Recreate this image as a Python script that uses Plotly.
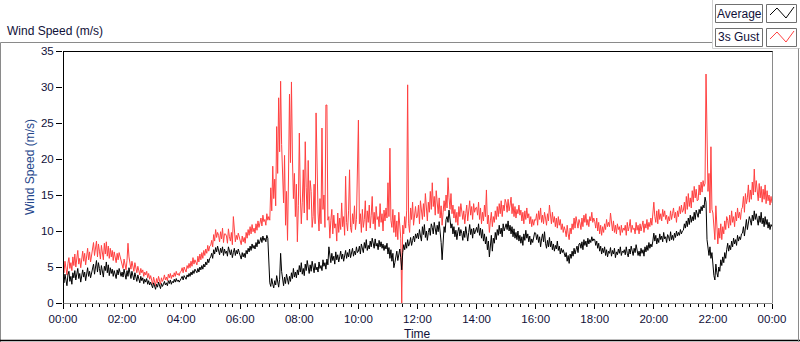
import pandas as pd
import plotly.graph_objects as go

# ---------------- data (2-minute samples) ----------------
start_time = "2000-01-01 00:00"
step = "2min"

avg_speed = [
    # 00h
    3.6, 2.8, 4.0, 3.1, 2.4, 3.9, 4.4, 3.0, 3.7, 2.6, 4.2, 3.5, 4.5, 3.2, 3.9,
    4.8, 3.4, 4.1, 2.9, 3.8, 4.6, 3.6, 4.3, 3.1, 4.0, 4.9, 3.7, 4.4, 3.5, 4.2,
    # 01h
    4.6, 5.4, 4.0, 5.0, 5.9, 4.3, 5.6, 4.8, 3.9, 5.2, 4.4, 3.6, 5.1, 4.5, 5.7,
    4.2, 5.3, 3.8, 4.9, 4.1, 4.7, 3.7, 4.5, 4.0, 3.4, 4.6, 3.9, 4.8, 4.2, 3.7,
    # 02h
    4.3, 3.6, 4.7, 3.9, 3.3, 4.5, 3.7, 4.9, 4.1, 3.4, 4.4, 3.8, 3.2, 4.2, 3.6,
    3.0, 3.9, 3.4, 2.8, 3.7, 3.1, 3.5, 2.7, 3.3, 2.9, 3.4, 2.6, 3.1, 2.5, 2.9,
    # 03h
    2.5, 2.1, 2.8, 2.3, 1.9, 2.6, 2.2, 2.9, 2.4, 2.0, 2.7, 2.3, 2.6, 3.0, 2.5,
    2.8, 2.4, 3.1, 2.7, 3.2, 2.6, 3.0, 2.8, 3.3, 2.9, 3.4, 3.0, 3.2, 2.9, 3.3,
    # 04h
    3.4, 3.7, 3.2, 3.8, 3.5, 3.3, 3.9, 3.6, 4.1, 3.7, 4.3, 3.9, 4.5, 4.1, 4.7,
    4.4, 4.2, 4.8, 4.3, 5.0, 4.6, 5.2, 4.7, 5.4, 5.0, 5.7, 5.3, 6.1, 5.6, 6.2,
    # 05h
    6.4, 6.9, 6.2, 7.4, 6.8, 7.7, 7.1, 7.9, 7.3, 6.7, 7.6, 7.0, 7.8, 6.6, 7.5,
    6.9, 7.2, 6.5, 7.8, 7.1, 6.7, 7.4, 6.3, 7.0, 7.6, 6.6, 7.3, 6.8, 7.5, 7.0,
    # 06h
    6.6, 6.1, 7.0, 6.4, 6.9, 6.3, 7.3, 6.8, 7.6, 7.1, 7.9, 7.3, 8.2, 7.6, 8.0,
    7.5, 8.4, 7.8, 8.8, 8.2, 8.6, 9.1, 8.4, 9.3, 8.7, 9.0, 8.5, 9.4, 9.0, 4.2,
    # 07h
    2.8, 2.3, 3.4, 2.6, 2.1, 3.1, 2.5, 3.8, 2.9, 2.2, 3.3, 6.9, 4.4, 3.0, 2.4,
    3.6, 2.7, 4.0, 3.2, 2.6, 3.7, 3.0, 4.2, 3.4, 4.8, 3.6, 4.3, 3.5, 4.6, 3.9,
    # 08h
    5.2, 4.3, 5.6, 4.0, 4.8, 3.8, 5.4, 4.5, 5.9, 4.7, 4.1, 5.3, 4.4, 5.8, 4.9,
    4.2, 5.5, 4.6, 5.0, 4.3, 5.7, 4.8, 5.2, 4.5, 6.0, 5.1, 5.6, 4.7, 6.1, 5.3,
    # 09h
    7.8, 6.2, 5.6, 6.9, 5.9, 6.5, 5.4, 7.1, 6.0, 6.7, 5.7, 6.4, 7.2, 6.1, 6.8,
    5.8, 6.6, 7.3, 6.2, 7.0, 6.4, 7.5, 6.3, 6.9, 7.6, 6.5, 7.2, 6.7, 7.8, 7.0,
    # 10h
    7.2, 7.9, 6.8, 8.2, 7.4, 7.0, 8.4, 7.6, 8.8, 7.3, 8.0, 7.5, 8.6, 7.8, 9.0,
    8.1, 7.6, 8.9, 7.9, 8.3, 7.4, 8.7, 7.8, 8.5, 7.6, 8.2, 7.3, 8.0, 7.5, 8.3,
    # 11h
    6.8, 7.7, 6.2, 7.4, 5.8, 6.9, 4.9, 5.6, 6.4, 7.2, 5.9, 6.8, 7.5, 6.3, 4.6,
    7.0, 8.1, 7.4, 8.4, 7.6, 8.8, 7.9, 8.3, 9.1, 8.0, 8.7, 9.3, 8.5, 9.6, 9.0,
    # 12h
    9.7, 8.9, 10.2, 9.3, 8.6, 10.6, 9.5, 10.9, 9.1, 10.0, 8.7, 9.8, 10.4, 9.4, 11.0,
    10.5, 9.6, 11.2, 10.3, 9.5, 10.8, 9.9, 11.3, 10.1, 8.4, 6.0, 8.9, 10.6, 9.8, 11.6,
    # 13h
    12.0, 11.2, 12.9, 11.6, 10.4, 11.0, 9.6, 10.6, 9.2, 10.1, 8.8, 9.9, 10.5, 9.3, 10.2,
    9.7, 8.7, 10.0, 9.1, 10.6, 9.4, 8.6, 9.8, 10.9, 9.5, 10.3, 9.0, 10.4, 9.6, 10.2,
    # 14h
    10.5, 9.8, 11.0, 9.4, 10.4, 9.0, 10.2, 8.6, 9.6, 8.2, 9.2, 7.4, 8.6, 6.4, 8.0,
    9.4, 7.2, 9.0, 8.3, 9.8, 8.8, 10.2, 9.4, 10.8, 9.6, 10.4, 9.2, 11.0, 10.0, 10.6,
    # 15h
    11.0, 10.2, 11.4, 10.0, 10.8, 9.6, 10.6, 9.2, 10.3, 9.0, 9.8, 8.8, 10.0, 8.6, 9.4,
    8.3, 9.2, 8.0, 9.6, 8.7, 10.1, 9.0, 9.6, 8.5, 9.3, 8.1, 8.9, 8.4, 9.4, 9.8,
    # 16h
    9.7, 8.8, 9.5, 8.4, 9.2, 7.8, 8.9, 9.6, 8.5, 9.9, 8.3, 7.6, 8.7, 7.8, 9.1,
    7.8, 8.6, 7.4, 8.2, 7.2, 8.0, 7.5, 8.6, 7.3, 7.9, 6.8, 7.6, 7.0, 7.4, 6.6,
    # 17h
    6.4, 7.0, 5.8, 6.6, 5.5, 6.8, 6.2, 7.2, 6.5, 7.6, 6.8, 7.4, 7.9, 7.0, 8.2,
    8.3, 7.6, 8.5, 7.4, 8.8, 8.0, 8.6, 7.8, 9.0, 8.2, 8.8, 8.4, 9.2, 8.6, 8.9,
    # 18h
    8.8, 8.0, 8.6, 7.6, 8.3, 7.2, 7.9, 6.8, 7.6, 7.0, 7.8, 6.6, 7.4, 6.4, 7.2,
    6.9, 7.7, 6.5, 7.3, 6.8, 7.6, 6.3, 7.1, 6.7, 7.5, 6.9, 7.8, 6.6, 7.2, 7.0,
    # 19h
    7.4, 6.7, 7.8, 6.9, 6.4, 7.5, 6.8, 7.9, 7.1, 6.6, 7.6, 7.0, 8.1, 7.3, 6.6,
    7.2, 6.5, 7.6, 6.9, 7.4, 6.5, 7.8, 7.1, 8.0, 7.3, 8.4, 7.6, 8.2, 7.8, 8.6,
    # 20h
    9.7, 8.6, 9.4, 8.2, 9.0, 8.4, 9.6, 8.8, 9.3, 8.5, 9.8, 8.9, 9.2, 8.4, 9.5,
    9.2, 8.6, 9.9, 8.8, 9.4, 8.7, 9.7, 9.1, 10.0, 9.3, 9.8, 9.4, 10.2, 9.6, 10.0,
    # 21h
    10.1, 11.0, 10.4, 11.4, 10.6, 11.8, 10.9, 12.2, 11.2, 12.0, 11.4, 12.6, 11.6, 12.9, 12.2,
    11.9, 13.0, 12.4, 13.4, 12.8, 13.6, 13.2, 14.7, 14.0, 8.8, 7.4, 6.6, 7.8, 6.2, 7.0,
    # 22h
    5.0, 3.8, 3.2, 5.4, 4.2, 3.6, 5.0, 4.4, 6.0, 5.2, 6.4, 5.6, 7.0, 6.2, 7.4,
    8.3, 7.2, 8.0, 7.4, 8.6, 7.8, 9.0, 8.2, 8.8, 8.0, 9.4, 8.6, 9.2, 8.8, 9.6,
    # 23h
    9.7, 10.6, 9.3, 10.8, 11.6, 10.2, 11.2, 12.0, 11.5, 10.8, 12.2, 11.4, 12.8, 11.6, 12.4,
    11.5, 10.8, 12.1, 11.2, 12.6, 11.0, 11.8, 10.6, 12.0, 10.9, 11.6, 10.4, 11.2, 10.2, 10.9,
    # 24h
    10.6,
]

gust_speed = [
    # 00h
    5.0, 4.2, 5.8, 4.6, 3.9, 5.5, 6.3, 4.8, 5.6, 4.5, 6.4, 5.2, 6.8, 5.0, 5.9,
    7.3, 5.4, 6.2, 4.9, 6.0, 7.2, 5.8, 6.9, 5.3, 6.4, 7.6, 6.0, 7.1, 5.7, 6.6,
    # 01h
    7.6, 8.4, 6.6, 7.8, 8.6, 6.4, 8.2, 7.2, 6.1, 8.0, 7.0, 6.0, 8.3, 6.8, 8.5,
    6.5, 7.9, 6.2, 7.6, 6.4, 7.3, 5.9, 7.1, 6.3, 5.6, 6.9, 6.0, 7.0, 6.4, 5.8,
    # 02h
    5.6, 4.8, 6.1, 5.2, 4.6, 5.9, 8.3, 6.4, 5.5, 4.7, 5.8, 5.0, 4.4, 5.6, 4.9,
    4.2, 5.1, 4.6, 3.9, 4.8, 4.2, 4.6, 3.7, 4.3, 3.9, 4.4, 3.5, 4.1, 3.3, 3.8,
    # 03h
    3.2, 2.6, 3.6, 2.9, 2.4, 3.4, 2.8, 3.7, 3.1, 2.6, 3.5, 3.0, 3.3, 3.9, 3.2,
    3.6, 3.1, 4.0, 3.5, 4.1, 3.4, 3.9, 3.6, 4.2, 3.7, 4.4, 3.9, 4.1, 3.8, 4.3,
    # 04h
    4.4, 4.9, 4.2, 5.0, 4.6, 4.3, 5.2, 4.8, 5.5, 4.9, 5.8, 5.1, 6.3, 5.4, 6.0,
    5.6, 5.3, 6.5, 5.7, 6.8, 6.0, 7.0, 6.2, 7.3, 6.6, 7.5, 6.9, 8.0, 7.2, 7.9,
    # 05h
    8.0, 8.7, 7.8, 9.5, 8.6, 10.2, 9.1, 9.8, 9.4, 8.5, 9.9, 8.9, 10.4, 8.4, 9.6,
    9.6, 9.3, 8.3, 10.3, 9.2, 8.6, 9.8, 8.1, 12.0, 10.5, 8.5, 9.4, 8.8, 9.7, 9.1,
    # 06h
    8.8, 8.1, 9.3, 8.5, 9.1, 8.3, 9.8, 9.0, 10.2, 9.4, 10.6, 9.6, 10.9, 9.9, 10.4,
    9.7, 11.0, 10.1, 11.4, 10.5, 11.1, 11.8, 10.7, 12.2, 11.3, 11.6, 10.8, 12.4, 11.5, 12.0,
    # 07h
    11.5, 16.0, 12.8, 19.0, 14.5, 17.2, 13.5, 24.5, 18.0, 28.5, 21.0, 30.8, 22.0, 16.5, 13.9,
    20.5, 10.8, 15.5, 8.7, 17.5, 29.0, 19.5, 30.7, 20.0, 14.5, 18.0, 12.0, 16.5, 8.5, 13.5,
    # 08h
    23.6, 15.0, 11.0, 14.0, 18.5, 12.5, 22.4, 16.0, 11.5, 19.8, 13.0, 17.0, 15.5, 10.5, 12.0,
    16.5, 11.0, 26.4, 16.5, 12.5, 10.0, 14.5, 11.0, 24.3, 13.0, 15.0, 10.5, 27.5, 27.5, 11.5,
    # 09h
    12.0, 9.0, 11.5, 13.0, 9.6, 12.2, 10.4, 11.0, 8.6, 12.5, 9.8, 11.8, 10.2, 13.9, 10.6,
    12.0, 9.4, 17.6, 11.2, 10.0, 12.8, 18.5, 10.5, 9.8, 12.4, 11.0, 13.5, 10.2, 11.6, 19.3,
    # 10h
    25.4, 11.0, 12.4, 9.8, 13.0, 10.5, 11.6, 14.2, 10.0, 12.8, 11.2, 13.6, 10.4, 12.2, 14.8,
    11.0, 12.6, 10.2, 13.4, 11.6, 12.0, 10.6, 13.8, 11.2, 12.4, 10.0, 12.9, 11.4, 13.2, 11.8,
    # 11h
    16.7, 12.0, 21.5, 11.5, 10.5, 13.0, 9.8, 12.2, 9.2, 11.4, 8.8, 12.6, 10.0, 9.0, 0.0,
    10.8, 9.6, 12.0, 10.4, 12.8, 30.3, 11.0, 9.8, 13.2, 11.6, 14.0, 10.8, 12.6, 13.4, 11.8,
    # 12h
    12.0, 13.6, 11.0, 14.2, 12.4, 11.6, 13.8, 12.0, 15.2, 12.8, 11.4, 14.0, 12.6, 15.5, 13.0,
    16.7, 13.4, 14.8, 12.2, 15.6, 13.2, 12.4, 14.6, 11.8, 13.5, 10.8, 12.6, 14.2, 12.8, 15.0,
    # 13h
    13.2, 17.4, 14.6, 13.0, 15.2, 12.4, 13.6, 11.8, 13.0, 11.2, 12.6, 10.8, 13.4, 12.0, 13.8,
    13.0, 11.6, 12.8, 11.0, 12.4, 13.6, 11.4, 12.8, 14.2, 12.2, 13.4, 11.6, 13.8, 12.6, 13.2,
    # 14h
    13.3, 12.2, 14.0, 11.6, 13.2, 11.0, 12.6, 11.4, 13.6, 12.0, 15.7, 11.0, 12.2, 9.8, 11.4,
    12.6, 10.6, 12.0, 11.2, 12.8, 11.6, 13.4, 12.0, 13.8, 12.4, 14.2, 12.0, 13.6, 12.8, 14.4,
    # 15h
    13.9, 12.6, 14.4, 12.8, 13.6, 14.7, 12.4, 13.8, 12.0, 13.4, 11.8, 13.0, 12.4, 13.6, 12.2,
    12.9, 11.4, 12.6, 11.0, 12.8, 11.6, 13.2, 11.8, 12.4, 11.0, 12.0, 10.6, 11.6, 10.8, 11.6,
    # 16h
    11.5, 12.4, 10.8, 12.8, 11.6, 13.2, 11.2, 12.2, 11.0, 12.6, 11.8, 10.8, 12.4, 11.4, 13.6,
    12.0, 11.0, 12.6, 11.2, 12.0, 10.6, 11.8, 10.4, 12.0, 10.8, 11.6, 10.2, 11.0, 9.8, 10.6,
    # 17h
    10.1, 9.2, 10.8, 9.6, 8.8, 10.4, 9.6, 11.0, 10.2, 11.8, 10.4, 12.0, 11.0, 10.4, 11.6,
    11.1, 10.2, 11.8, 10.6, 12.2, 11.2, 12.4, 10.8, 11.6, 10.6, 12.0, 11.4, 12.6, 11.2, 11.8,
    # 18h
    11.3, 10.4, 11.8, 10.0, 11.2, 9.6, 10.8, 9.4, 10.6, 9.8, 11.0, 10.2, 11.6, 10.6, 11.2,
    10.6, 12.5, 10.8, 10.0, 11.4, 9.8, 10.8, 9.6, 11.0, 10.2, 10.6, 9.4, 10.8, 9.8, 10.4,
    # 19h
    10.1, 10.8, 9.4, 11.2, 10.0, 10.6, 11.6, 9.8, 10.8, 10.2, 10.4, 9.6, 11.2, 10.1, 10.8,
    9.6, 11.0, 10.0, 10.6, 11.4, 9.8, 11.0, 10.4, 11.6, 10.2, 11.2, 10.6, 11.8, 10.8, 12.0,
    # 20h
    14.0, 12.0, 11.2, 12.8, 11.0, 13.0, 11.6, 12.4, 11.4, 13.0, 12.0, 12.8, 11.6, 12.2, 11.0,
    12.0, 11.4, 12.8, 11.6, 12.4, 13.2, 11.8, 12.6, 11.2, 12.8, 12.0, 13.4, 12.4, 13.6, 12.6,
    # 21h
    12.9, 14.0, 12.4, 14.8, 13.0, 15.2, 13.4, 14.6, 13.2, 15.6, 14.0, 16.2, 14.6, 15.8, 14.2,
    14.3, 16.4, 15.0, 16.8, 15.4, 17.0, 16.2, 16.6, 31.8, 22.4, 15.5, 18.0, 12.5, 21.7, 13.0,
    # 22h
    12.5, 10.4, 8.8, 13.5, 9.6, 8.2, 10.4, 9.0, 11.0, 8.8, 10.6, 9.6, 11.4, 10.2, 12.0,
    11.5, 10.4, 12.2, 10.8, 12.8, 11.2, 12.0, 10.6, 12.6, 11.4, 13.2, 11.8, 12.6, 11.6, 13.0,
    # 23h
    13.3, 14.8, 12.6, 15.2, 13.8, 14.6, 16.4, 14.0, 15.7, 14.4, 16.8, 15.0, 18.6, 15.4, 17.0,
    15.3, 14.2, 16.6, 14.6, 16.2, 14.0, 15.8, 14.4, 16.4, 13.8, 15.6, 14.2, 15.0, 13.6, 14.8,
    # 24h
    13.9,
]

tick_times = ["2000-01-01 00:00", "2000-01-01 02:00", "2000-01-01 04:00", "2000-01-01 06:00",
              "2000-01-01 08:00", "2000-01-01 10:00", "2000-01-01 12:00", "2000-01-01 14:00",
              "2000-01-01 16:00", "2000-01-01 18:00", "2000-01-01 20:00", "2000-01-01 22:00",
              "2000-01-02 00:00"]
tick_labels = ["00:00", "02:00", "04:00", "06:00", "08:00", "10:00", "12:00",
               "14:00", "16:00", "18:00", "20:00", "22:00", "00:00"]
y_ticks = [0, 5, 10, 15, 20, 25, 30, 35]

series_names = ["Average", "3s Gust"]
# -----------------------------------------------------------------------------------------

times_avg = pd.date_range(start_time, periods=len(avg_speed), freq=step)
times_gust = pd.date_range(start_time, periods=len(gust_speed), freq=step)

W, H = 800, 342
L, R, T, B = 63, 772, 51, 303  # plot area in pixels


def px(x):
    return (x - L) / (R - L)


def py(y):
    return (B - y) / (B - T)


FONT = "Liberation Sans"
TXT = "#101038"

fig = go.Figure()
fig.add_trace(go.Scatter(x=times_gust, y=gust_speed, mode="lines", name=series_names[1],
                         line=dict(color="#ff4040", width=1)))
fig.add_trace(go.Scatter(x=times_avg, y=avg_speed, mode="lines", name=series_names[0],
                         line=dict(color="#000000", width=1)))

fig.update_layout(
    width=W, height=H,
    margin=dict(l=L, r=W - R, t=T, b=H - B, pad=0),
    paper_bgcolor="white", plot_bgcolor="white",
    showlegend=False,
    font=dict(family=FONT, size=11, color=TXT),
    xaxis=dict(
        type="date", range=[tick_times[0], tick_times[-1]],
        tickmode="array", tickvals=tick_times, ticktext=tick_labels,
        ticks="outside", ticklen=5, tickcolor="#000000", tickwidth=1,
        showgrid=False, zeroline=False, showline=False,
        tickfont=dict(family=FONT, size=11.5, color=TXT),
        minor=dict(dtick=15 * 60 * 1000, ticks="outside", ticklen=3,
                   tickcolor="#000000", tickwidth=1, showgrid=False),
    ),
    yaxis=dict(
        range=[0, 35], tickmode="array", tickvals=y_ticks,
        ticks="outside", ticklen=6, tickcolor="#000000", tickwidth=1,
        showgrid=False, zeroline=False, showline=False,
        tickfont=dict(family=FONT, size=11.5, color=TXT),
    ),
)

shapes = []


def line(x0, y0, x1, y1, color, width=1):
    shapes.append(dict(type="line", xref="paper", yref="paper",
                       x0=px(x0), y0=py(y0), x1=px(x1), y1=py(y1),
                       line=dict(color=color, width=width)))


# outer panel
line(0.5, 42.5, 712, 42.5, "#8a8a8a")
line(0.5, 42.5, 0.5, 342, "#8a8a8a")
line(0, 340.5, 800, 340.5, "#000000", 1.5)
line(712.5, 0, 712.5, 48.5, "#d0d0d0")
line(712.5, 48.5, 800, 48.5, "#d0d0d0")
line(798.5, 48.5, 798.5, 342, "#8a8a8a")

# plot frame
line(L, B + 0.5, R, B + 0.5, "#8a8a8a")
line(R + 0.5, T, R + 0.5, B + 0.5, "#8a8a8a")
line(L, T + 0.5, R + 0.5, T + 0.5, "#000000")
line(L + 0.5, T, L + 0.5, B + 0.5, "#000000")

# legend boxes
for i, (name, col) in enumerate(zip(series_names, ["#000000", "#ff4040"])):
    y0 = 4 + i * 24
    y1 = y0 + 18
    shapes.append(dict(type="rect", xref="paper", yref="paper",
                       x0=px(715.5), x1=px(762.5), y0=py(y0 + 0.5), y1=py(y1 + 0.5),
                       line=dict(color="#707070", width=1), fillcolor="white"))
    shapes.append(dict(type="rect", xref="paper", yref="paper",
                       x0=px(766.5), x1=px(796.5), y0=py(y0 + 0.5), y1=py(y1 + 0.5),
                       line=dict(color="#707070", width=1), fillcolor="white"))
    pts = [(770, y0 + 11), (777, y0 + 4), (786, y0 + 14), (794, y0 + 3)]
    path = "M " + " L ".join(f"{px(a):.5f},{py(b):.5f}" for a, b in pts)
    shapes.append(dict(type="path", xref="paper", yref="paper", path=path,
                       line=dict(color=col, width=1)))
    fig.add_annotation(xref="paper", yref="paper", x=px(739), y=py((y0 + y1) / 2 + 0.5),
                       text=name, showarrow=False, xanchor="center", yanchor="middle",
                       font=dict(family=FONT, size=12, color=TXT))

fig.update_layout(shapes=shapes)

# titles
fig.add_annotation(xref="paper", yref="paper", x=px(5), y=py(31),
                   text="Wind Speed (m/s)", showarrow=False, xanchor="left", yanchor="middle",
                   font=dict(family=FONT, size=12, color=TXT))
fig.add_annotation(xref="paper", yref="paper", x=px(30), y=py(167),
                   text="Wind Speed (m/s)", showarrow=False, textangle=-90,
                   xanchor="center", yanchor="middle",
                   font=dict(family=FONT, size=12, color="#24468a"))
fig.add_annotation(xref="paper", yref="paper", x=px(417), y=py(334),
                   text="Time", showarrow=False, xanchor="center", yanchor="middle",
                   font=dict(family=FONT, size=12, color=TXT))

fig.write_html("out.html",
               config={"displayModeBar": False},
               post_script="document.body.style.margin='0px';document.body.style.overflow='hidden';")
